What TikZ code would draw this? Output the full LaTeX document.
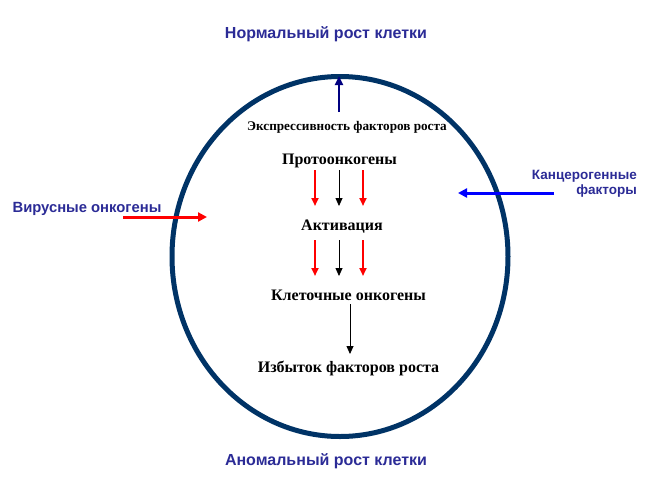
\documentclass[tikz,border=0pt]{standalone}
\usepackage{fontspec}
\setmainfont{Liberation Serif}
\newfontfamily\labelsans{Liberation Sans}
\usetikzlibrary{arrows.meta,shapes.geometric}
\definecolor{ringblue}{HTML}{003366}
\definecolor{titleblue}{HTML}{2B2B96}
\definecolor{upnavy}{HTML}{000080}
\tikzset{
  ttl/.style={font=\labelsans\bfseries\fontsize{16}{18}\selectfont, text=titleblue, inner sep=0pt},
  side/.style={font=\labelsans\bfseries\fontsize{13.5}{15}\selectfont, text=titleblue, inner sep=0pt},
  inner/.style={font=\bfseries\fontsize{16}{18}\selectfont, inner sep=0pt},
  redarr/.style={draw=red, line width=2pt, -{Triangle[length=8pt,width=7pt]}},
  blkarr/.style={draw=black, line width=0.8pt, -{Triangle[length=8pt,width=7pt]}},
}
\begin{document}
\begin{tikzpicture}[x=1pt,y=-1pt]
\useasboundingbox (0,0) rectangle (662,491);
\node[draw=ringblue, line width=5pt, ellipse, minimum width=336pt, minimum height=360pt, inner sep=0pt] (cell) at (340,256.5) {};
% titles
\node[ttl] (normal) at (326,34) {Нормальный рост клетки};
\node[ttl] (abnormal) at (326,461) {Аномальный рост клетки};
% side labels
\node[side, font=\labelsans\bfseries\fontsize{14.8}{15}\selectfont] (viral) at (87,209) {Вирусные онкогены};
\node[side, align=right, anchor=north east] (carc) at (637,170) {Канцерогенные\\факторы};
% inner labels
\node[font=\bfseries\fontsize{13.2}{15}\selectfont, inner sep=0pt] (expr) at (347,127) {Экспрессивность факторов роста};
\node[inner] (proto) at (339.5,161) {Протоонкогены};
\node[inner] (activ) at (342,227) {Активация};
\node[inner] (cellonc) at (348.5,295) {Клеточные онкогены};
\node[inner] (excess) at (348.5,368) {Избыток факторов роста};
% coordinates
\coordinate (upS) at (339,112);
\coordinate (upE) at (339,76);
\coordinate (r1a) at (315,170); \coordinate (r1b) at (315,206);
\coordinate (b1a) at (339,170); \coordinate (b1b) at (339,206);
\coordinate (g1a) at (363,170); \coordinate (g1b) at (363,206);
\coordinate (r2a) at (315,240); \coordinate (r2b) at (315,276);
\coordinate (b2a) at (339,240); \coordinate (b2b) at (339,276);
\coordinate (g2a) at (363,240); \coordinate (g2b) at (363,276);
\coordinate (la) at (350,304); \coordinate (lb) at (350,354);
\coordinate (vS) at (123,217); \coordinate (vE) at (207,217);
\coordinate (cS) at (554,193); \coordinate (cE) at (458,193);
% arrows
\draw[draw=upnavy, line width=2pt, -{Triangle[length=9pt,width=8pt]}] (upS) -- (upE);
\draw[redarr] (r1a) -- (r1b);
\draw[blkarr] (b1a) -- (b1b);
\draw[redarr] (g1a) -- (g1b);
\draw[redarr] (r2a) -- (r2b);
\draw[blkarr] (b2a) -- (b2b);
\draw[redarr] (g2a) -- (g2b);
\draw[blkarr] (la) -- (lb);
\draw[draw=red, line width=3pt, -{Triangle[length=9pt,width=9pt]}] (vS) -- (vE);
\draw[draw=blue, line width=3pt, -{Triangle[length=9pt,width=9pt]}] (cS) -- (cE);
\end{tikzpicture}
\end{document}
